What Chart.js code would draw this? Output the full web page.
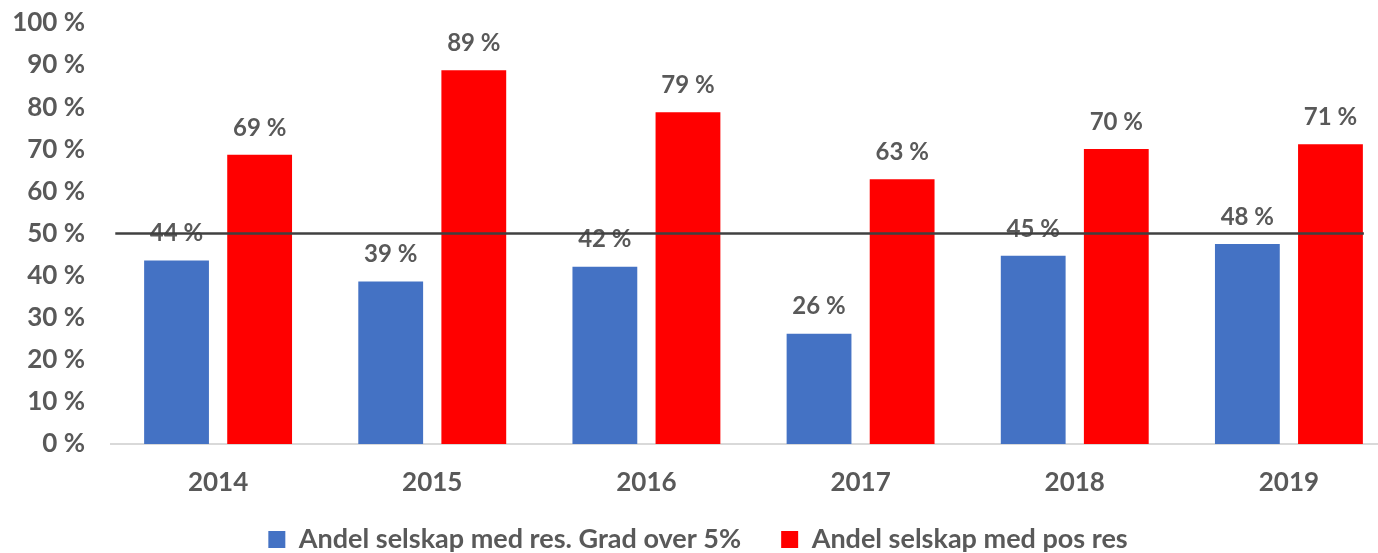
<!DOCTYPE html>
<html>
<head>
<meta charset="utf-8">
<script src="https://cdn.jsdelivr.net/npm/chart.js"></script>
<style>
  html, body { margin: 0; padding: 0; background: #fff; overflow: hidden; }
  #wrap { width: 1414px; height: 553px; position: relative; }
</style>
</head>
<body>
<div id="wrap"><canvas id="myChart"></canvas></div>
<script>
const years = ['2014', '2015', '2016', '2017', '2018', '2019'];
const gradOver5 = [43.6, 38.6, 42.1, 26.2, 44.7, 47.5];
const posRes = [68.7, 88.8, 78.8, 62.9, 70.1, 71.2];
const seriesNames = ['Andel selskap med res. Grad over 5%', 'Andel selskap med pos res'];
const refLevel = 50;

const textColor = '#595959';
const fontFamily = 'Lato, "Open Sans", sans-serif';

// labels over every bar
const barLabels = {
    id: 'barLabels',
    afterDatasetsDraw(chart) {
        const ctx = chart.ctx;
        ctx.save();
        ctx.font = 'bold 24px ' + fontFamily;
        ctx.fillStyle = textColor;
        ctx.textAlign = 'center';
        ctx.textBaseline = 'middle';
        chart.data.datasets.forEach((ds, i) => {
            chart.getDatasetMeta(i).data.forEach((bar, j) => {
                ctx.fillText(Math.round(ds.data[j]) + ' %', bar.x, bar.y - 27);
            });
        });
        ctx.restore();
    }
};

// horizontal 50 % line drawn on top
const refLine = {
    id: 'refLine',
    afterDatasetsDraw(chart) {
        const ctx = chart.ctx;
        const x = chart.scales.x;
        const y = chart.scales.y.getPixelForValue(refLevel);
        ctx.save();
        ctx.strokeStyle = '#404040';
        ctx.lineWidth = 2.5;
        ctx.beginPath();
        ctx.moveTo(x.getPixelForValue(-0.48), y);
        ctx.lineTo(x.getPixelForValue(5.35), y);
        ctx.stroke();
        ctx.restore();
    }
};

// legend: short box in the layout, then pulled up a little so the items sit near the bottom
const legendPlace = {
    id: 'legendPlace',
    afterInit(chart) {
        const lg = chart.legend;
        const fit = lg.fit;
        lg.fit = function () {
            fit.call(this);
            this.height = 52;
        };
    },
    afterLayout(chart) {
        const lg = chart.legend;
        lg.top -= 15;
        lg.height += 15;
    }
};

const ctx = document.getElementById('myChart').getContext('2d');
const myChart = new Chart(ctx, {
    type: 'bar',
    data: {
        labels: years,
        datasets: [{
            label: seriesNames[0],
            data: gradOver5,
            backgroundColor: '#4472C4',
            barPercentage: 0.78,
            categoryPercentage: 0.776
        }, {
            label: seriesNames[1],
            data: posRes,
            backgroundColor: '#FF0000',
            barPercentage: 0.78,
            categoryPercentage: 0.776
        }]
    },
    options: {
        responsive: true,
        maintainAspectRatio: false,
        animation: false,
        layout: { autoPadding: false, padding: { top: 23, right: 18, bottom: 0, left: 0 } },
        plugins: {
            legend: {
                position: 'bottom',
                labels: {
                    color: textColor,
                    font: { family: fontFamily, size: 27, weight: 'bold' },
                    boxWidth: 17,
                    boxHeight: 17,
                    padding: 40
                }
            },
            tooltip: { enabled: false }
        },
        scales: {
            x: {
                grid: { display: false, drawTicks: false },
                border: { color: '#d9d9d9', width: 2 },
                ticks: {
                    color: textColor,
                    padding: 23,
                    font: { family: fontFamily, size: 26, weight: 'bold' }
                },
                afterFit: s => { s.height = 57; }
            },
            y: {
                min: 0,
                max: 100,
                grid: { display: false, drawTicks: false },
                border: { display: false },
                ticks: {
                    stepSize: 10,
                    color: textColor,
                    padding: 26,
                    font: { family: fontFamily, size: 26, weight: 'bold' },
                    callback: v => v + ' %'
                },
                afterFit: s => { s.width = 111; s.paddingTop = 0; s.paddingBottom = 0; }
            }
        }
    },
    plugins: [barLabels, refLine, legendPlace]
});
</script>
</body>
</html>
